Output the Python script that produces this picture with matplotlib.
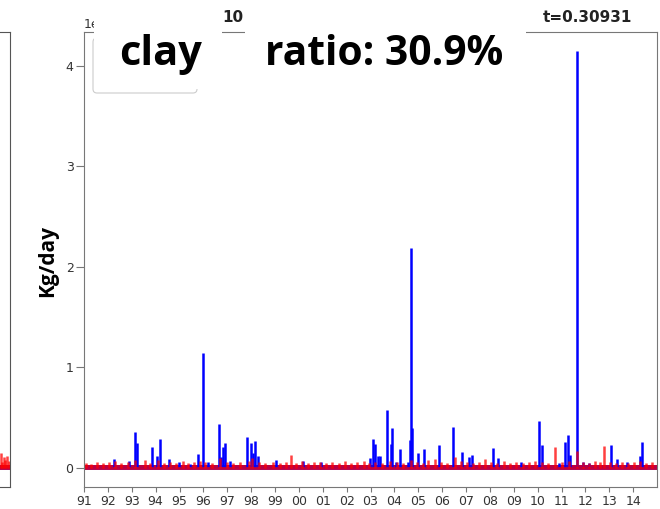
import matplotlib
matplotlib.use("Agg")
import matplotlib.pyplot as plt
import numpy as np
from matplotlib.patches import Rectangle, FancyBboxPatch

# ---- data (loads in 1e6 kg/day, time in decimal years) ----
year_ticks = list(range(1991, 2015))
year_labels = ["91", "92", "93", "94", "95", "96", "97", "98", "99", "00", "01", "02",
               "03", "04", "05", "06", "07", "08", "09", "10", "11", "12", "13", "14"]

total_years = [1992.26, 1992.88, 1993.12, 1993.23, 1993.86, 1994.07, 1994.19, 1994.58,
               1994.99, 1995.43, 1995.76, 1996.00, 1996.19, 1996.64, 1996.75, 1996.82,
               1996.90, 1997.12, 1997.81, 1998.00, 1998.07, 1998.18, 1998.29, 1999.03,
               2000.16, 2000.93, 2002.97, 2003.11, 2003.17, 2003.31, 2003.41, 2003.69,
               2003.86, 2003.91, 2004.07, 2004.25, 2004.56, 2004.64, 2004.70, 2004.73,
               2004.99, 2005.23, 2005.88, 2006.46, 2006.83, 2007.14, 2007.25, 2008.14,
               2008.33, 2009.31, 2010.04, 2010.18, 2010.89, 2011.15, 2011.26, 2011.35,
               2011.65, 2011.92, 2012.17, 2013.08, 2013.34, 2013.76, 2014.27, 2014.36]
total_vals = [0.09, 0.07, 0.36, 0.25, 0.21, 0.12, 0.285, 0.09,
              0.06, 0.04, 0.14, 1.14, 0.06, 0.44, 0.11, 0.21,
              0.245, 0.07, 0.31, 0.245, 0.15, 0.27, 0.12, 0.08,
              0.07, 0.06, 0.10, 0.285, 0.235, 0.12, 0.12, 0.577,
              0.235, 0.395, 0.06, 0.185, 0.06, 0.28, 2.186, 0.40,
              0.15, 0.185, 0.225, 0.41, 0.16, 0.11, 0.13, 0.195,
              0.10, 0.06, 0.47, 0.23, 0.05, 0.26, 0.33, 0.13,
              4.152, 0.06, 0.05, 0.225, 0.085, 0.06, 0.12, 0.255]

clay_years = [1991.10, 1991.30, 1991.55, 1991.80, 1992.05, 1992.30, 1992.55, 1992.85,
              1993.15, 1993.54, 1993.75, 1994.10, 1994.35, 1994.60, 1994.85, 1995.15,
              1995.35, 1995.60, 1995.85, 1996.05, 1996.35, 1996.70, 1997.00, 1997.25,
              1997.55, 1997.90, 1998.05, 1998.35, 1998.60, 1998.90, 1999.20, 1999.45,
              1999.67, 1999.90, 2000.15, 2000.40, 2000.65, 2000.90, 2001.15, 2001.40,
              2001.70, 2001.95, 2002.20, 2002.45, 2002.72, 2002.95, 2003.20, 2003.50,
              2003.80, 2004.10, 2004.35, 2004.70, 2004.95, 2005.20, 2005.39, 2005.71,
              2005.95, 2006.20, 2006.55, 2006.80, 2007.05, 2007.30, 2007.55, 2007.78,
              2008.05, 2008.30, 2008.60, 2008.85, 2009.10, 2009.40, 2009.65, 2009.90,
              2010.20, 2010.45, 2010.73, 2011.00, 2011.30, 2011.64, 2011.90, 2012.15,
              2012.40, 2012.60, 2012.80, 2013.05, 2013.30, 2013.55, 2013.80, 2014.05,
              2014.30, 2014.55, 2014.80]
clay_vals = [0.05, 0.04, 0.06, 0.05, 0.06, 0.07, 0.05, 0.06,
             0.08, 0.08, 0.05, 0.08, 0.05, 0.06, 0.05, 0.07,
             0.05, 0.06, 0.07, 0.06, 0.05, 0.10, 0.06, 0.05,
             0.06, 0.07, 0.10, 0.06, 0.05, 0.06, 0.05, 0.06,
             0.13, 0.05, 0.07, 0.05, 0.06, 0.06, 0.05, 0.06,
             0.05, 0.07, 0.05, 0.06, 0.07, 0.05, 0.06, 0.05,
             0.07, 0.06, 0.05, 0.08, 0.06, 0.05, 0.08, 0.09,
             0.06, 0.05, 0.11, 0.07, 0.06, 0.05, 0.06, 0.085,
             0.06, 0.05, 0.07, 0.05, 0.06, 0.05, 0.06, 0.07,
             0.06, 0.05, 0.21, 0.06, 0.07, 0.17, 0.06, 0.05,
             0.07, 0.06, 0.22, 0.06, 0.05, 0.06, 0.05, 0.06,
             0.07, 0.05, 0.06]
base_level = 0.03

# neighbouring panel (only its right edge is in view)
prev_pos = [0.955, 0.962, 0.970, 0.978, 0.986, 0.994]
prev_vals = [0.15, 0.06, 0.11, 0.08, 0.12, 0.07]

SCALE = 1e6
W, H = 660, 509
BLUE = "#0000ff"
RED = "#ff0000"

fig = plt.figure(figsize=(W / 100, H / 100), dpi=100)
px = fig.dpi_scale_trans


def fx(x):
    return x / 100.0


def fy(y):
    return (H - y) / 100.0


ylim = (-0.189 * SCALE, 4.338 * SCALE)
bottom, height = 1 - 487 / H, (487 - 32) / H

# ---- neighbouring panel ----
axl = fig.add_axes([-0.3, bottom, 0.3 + 10 / W, height])
axl.set_xlim(0, 1)
axl.set_ylim(*ylim)
axl.fill_between([0, 1], 0, base_level * SCALE, color=BLUE, lw=0)
axl.plot([0, 1], [0, 0], color=BLUE, lw=2)
axl.fill_between([0, 1], 0, base_level * SCALE, color=RED, alpha=0.75, lw=0)
axl.vlines(prev_pos, 0, np.array(prev_vals) * SCALE, color=RED, alpha=0.75, lw=1.8)
axl.plot([0, 1], [0, 0], color=RED, alpha=0.75, lw=2)
axl.set_xticks([])
axl.set_yticks([])
for s in axl.spines.values():
    s.set_color("#555555")

# ---- main panel ----
ax = fig.add_axes([84 / W, bottom, (657 - 84) / W, height])
ax.set_xlim(1991, 2015)
ax.set_ylim(*ylim)

ax.fill_between([1991, 2015], 0, base_level * SCALE, color=BLUE, lw=0)
ax.plot([1991, 2015], [0, 0], color=BLUE, lw=2)
ax.vlines(total_years, 0, np.array(total_vals) * SCALE, color=BLUE, lw=1.8)
ax.fill_between([1991, 2015], 0, base_level * SCALE, color=RED, alpha=0.75, lw=0)
ax.vlines(clay_years, 0, np.array(clay_vals) * SCALE, color=RED, alpha=0.75, lw=1.8)
ax.plot([1991, 2015], [0, 0], color=RED, alpha=0.75, lw=2)

ax.set_xticks(year_ticks)
ax.set_xticklabels(year_labels)
ax.set_yticks([0, 1 * SCALE, 2 * SCALE, 3 * SCALE, 4 * SCALE])
ax.tick_params(axis="both", labelsize=9, colors="#333333")
ax.tick_params(axis="x", length=3.5, pad=2.5, color="#777777")
ax.tick_params(axis="y", length=5.5, pad=2, color="#777777")
ax.yaxis.get_offset_text().set_fontsize(9)
ax.yaxis.get_offset_text().set_color("#333333")
for s in ax.spines.values():
    s.set_color("#777777")

# title pieces
fig.text(fx(233), fy(17), "10", transform=px, fontsize=11, fontweight="bold",
         ha="center", va="center", color="#222222")
fig.text(fx(632), fy(17), "t=0.30931", transform=px, fontsize=11, fontweight="bold",
         ha="right", va="center", color="#222222")

# legend frame
fig.add_artist(FancyBboxPatch((fx(93), fy(93)), fx(197 - 93), (93 - 38) / 100.0,
                              boxstyle="round,pad=0,rounding_size=0.04",
                              transform=px, facecolor="white", edgecolor="#cccccc",
                              lw=0.8, zorder=4))

# label boxes
fig.add_artist(Rectangle((fx(94), fy(89)), fx(222 - 94), 89 / 100.0, transform=px,
                         facecolor="white", edgecolor="none", zorder=5))
fig.add_artist(Rectangle((fx(245), fy(80)), fx(526 - 245), 80 / 100.0, transform=px,
                         facecolor="white", edgecolor="none", zorder=5))

fig.text(fx(119), fy(65), "clay", transform=px, fontsize=30, fontweight="bold",
         family="Open Sans", ha="left", va="baseline", color="black", zorder=6)
fig.text(fx(265), fy(65), "ratio: 30.9%", transform=px, fontsize=29.3, fontweight="bold",
         family="Open Sans", ha="left", va="baseline", color="black", zorder=6)

fig.text(fx(48), fy(261), "Kg/day", transform=px, fontsize=15, fontweight="bold",
         family="Open Sans", rotation=90, ha="center", va="center", color="black")

fig.savefig("out.png", dpi=100)
